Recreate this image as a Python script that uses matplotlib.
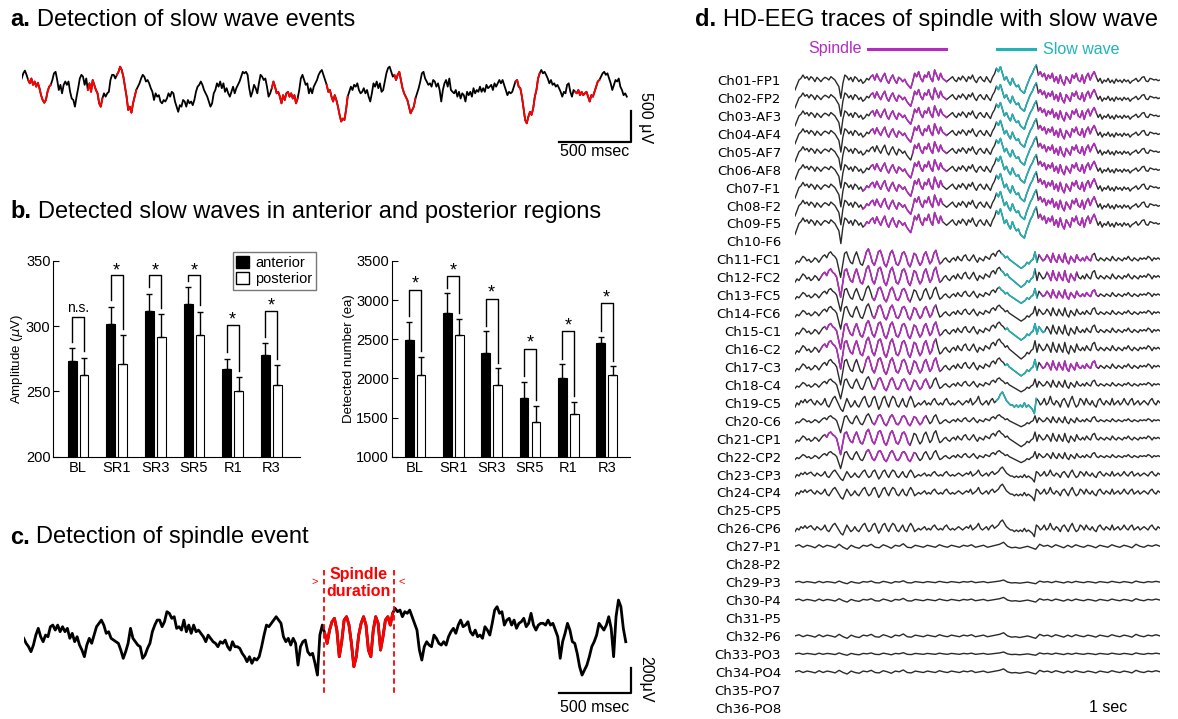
import numpy as np
import matplotlib
matplotlib.use('Agg')
import matplotlib.pyplot as plt
from matplotlib.patches import Patch
from matplotlib.lines import Line2D

plt.rcParams['font.family'] = ['Liberation Sans', 'DejaVu Sans']

W, H = 1178, 719

# ---------------- data ----------------
# a. slow wave trace (uV), sampled every dt_a ms
dt_a = 11.3
eeg_a = [190, 275, 320, 250, 165, 110, 190, 85, 140, 55,
         120, 30, -85, -165, -210, -165, -30, 55, 85, 165,
         275, 300, 165, 0, 85, -55, 85, 140, 85, 140,
         -30, -140, -165, -275, -110, 30, 190, 250, 220, 85,
         190, 0, 110, -30, 165, 85, 0, -55, -220, -275,
         -140, -55, -110, -55, -30, 165, 250, 250, 190, 250,
         300, 385, 330, 220, 55, -110, -330, -275, -375, -220,
         -110, 0, 55, 110, 190, 250, 220, 140, 165, 110,
         30, -30, -165, -55, -110, -85, -190, -220, -165, -190,
         -140, -55, -110, -30, -55, -190, -275, -360, -250, -275,
         -165, -190, -275, -165, -220, -190, -250, -165, -30, 55,
         85, 140, 85, 0, -55, -110, -190, -275, -220, -55,
         0, 110, 55, 140, 30, 110, -30, 30, -55, -110,
         -30, 55, -55, 30, 85, 140, 220, 300, 275, 300,
         250, 30, -110, -30, 85, 30, -55, 110, 250, 220,
         165, 190, 55, -110, -55, 30, 140, 55, -55, -30,
         -110, -220, -85, -165, -55, -30, -110, -55, -140, -85,
         -220, -140, 0, 190, 250, 165, 85, 110, -55, 30,
         -55, 55, 110, 165, 250, 300, 330, 250, 165, 85,
         -30, 0, -110, -190,
         -85, -165, -275, -410, -520, -470, -495, -330, -110, -30,
         55, 0, 85, 55, 110, 0, -55, -30, 30, -55,
         0, -110, -190, -55, 110, 55, 140, 30, 110, -30,
         0, 140, 275, 360, 385, 300, 220, 250, 165, 250,
         300, 165, 30, -55, -110, -165, -275, -385, -330, -275,
         -140, -55, 30, 140, 275, 300, 190, 140, 85, 110,
         55, 165, 140, 55, 110, 0, -190, 0, 110, 165,
         55, 190, 0, -30, -55, 0, -110, -30, -140, -55,
         -85, -190, -30, -85, -30, -110, 30, -55, 0, -30,
         55, -30, 30, -30, 85, 30, 55, 85, 0, 110,
         55, 110, 165, 110, 165, 85, 0, -85, -30, -55,
         -30, 55, 140, 165, 55, 30, -110, -300, -495, -550,
         -440, -360, -410, -300, -110, 0, 190, 275, 330, 275,
         300, 250, 190, 110, 165, 85, 110, 55, 85, 30,
         -30, -110, -30, -55, 85, 110, -30, -110, 0, -30,
         -55, 0, -85, -30, -85, -55, -30, -110, -190, -85,
         -110, -30, 55, 140, 165, 220, 275, 300, 250, 275,
         190, 110, 0, 85, 165, 140, 190, 55, 0, -85,
         -55, -110]
# detected slow wave events (ms)
sw_events = [(42, 205), (462, 576), (665, 805), (1750, 1943),
             (2130, 2293), (2608, 2765), (3453, 3628), (3868, 4048)]

# b. detected slow waves
groups = ['BL', 'SR1', 'SR3', 'SR5', 'R1', 'R3']
amp_ant = [273, 302, 312, 317, 267, 278]
amp_ant_err = [10, 13, 13, 13, 8, 9]
amp_post = [263, 271, 292, 293, 250, 255]
amp_post_err = [13, 22, 17, 18, 11, 15]
amp_sig = ['n.s.', '*', '*', '*', '*', '*']
amp_bracket = [307, 339, 339, 339, 301, 312]

num_ant = [2490, 2840, 2330, 1750, 2010, 2450]
num_ant_err = [235, 245, 270, 205, 170, 85]
num_post = [2040, 2555, 1910, 1445, 1550, 2050]
num_post_err = [240, 205, 220, 205, 150, 105]
num_sig = ['*', '*', '*', '*', '*', '*']
num_bracket = [3135, 3310, 3020, 2380, 2600, 2960]

# c. spindle trace (uV), sampled every dt_c ms
dt_c = 17.0
eeg_c = [-13, -53, -80, -120, -67, 13, 67, 0, -40, 13,
         0, 80, 93, 53, 93, 40, 80, 40, 67, -13,
         27, -40, 0, -67, -107, -160, -67, -13, -53, 13,
         80, 107, 133, 93, 27, 40, -13, -27, -40, -53,
         -107, -173, -120, -53, 67, -13, -40, -67, -80, -173,
         -147, -93, -53, 40, 93, 133, 133, 80, 120, 200,
         187, 147, 160, 67, 80, 53, 133, 40, 93, 27,
         93, 40, 53, 27, 0, -40, 13, -13, -40, -53,
         -80, -40, -53, -27, -80, -107, -40, -80, -80, -93,
         -133, -160, -200, -160, -213, -173, -187, -160, -80, 13,
         93, 80, 107, 133, 160, 133, 107, 0, -40, -13,
         -67, -13, -53, -227, -80, -40, -27, -120, -147, -133,
         -213, -307,
         13, 93, 27, -53, 53, 120, 147, 53, -160, -40,
         133, 160, 93, -53, -240, -160, 13, 107, 160, 93,
         -107, -160, 53, 160, 107, -107, 0, 133, 160, 93,
         187, 227, 200, 213, 160, 200, 187, 213, 160, 107,
         53, -107, -187, -80, -40, -67, -80, 13, -13, -53,
         -67, -40, -67, 0, 40, 67, 27, 93, 133, 80,
         93, 120, 40, 13, 53, 0, 13, -13, 80, 53,
         13, 107, 213, 240, 187, 200, 93, 133, 147, 93,
         133, 67, 107, 120, 147, 80, 107, 187, 93, 53,
         93, 107, 107, 93, 133, 93, 107, 53, 0, -173,
         -40, 27, 107, 53, -40, -53, -133, -240, -307, -267,
         -227, -160, -80, -40, 13, 107, 80, 53, 93, 160,
         67, -160, 160, 293, 240, 67, -40]
spindle_window = (2100, 2590)

# d. HD-EEG traces (uV), 3 s window
duration_d = 3.0
frontal_uv = [-60, -30, 0, 10, 30, 10, 20, 0, 20, 10, -10, 16, 4, -10, 6, 16, 10, 0, 20, 10,
              0, -20, -40, -110, -20, 30, 20, 0, 16, -10, 20, 10, -10, 4, -20, -10, 10, 0, 20, 30,
              0, 36, 10, -10, 20, 40, 0, -20, 10, 30, 0, -20, 16, 6, -10, 4, -20, -36, -50, -10,
              40, 20, 50, 10, -10, 30, 16, 50, 10, -10, 60, 30, 0, 40, 10, 0, -10, 0, 10, 20,
              0, -10, 16, 0, 24, 10, -10, 20, 6, 30, 0, -16, 10, 20, 0, -10, 20, 0, -16, 16,
              36, 70, 50, 80, 40, 0, 20, -10, -30, 10, -20, -40, -30, -60, -70, -80, -40, -10, 20, 40,
              70, 90, 30, 50, 20, 40, 0, 30, 10, 40, -10, 20, -20, 30, -10, -30, 20, 0, -20, 30,
              10, 40, 0, -10, 30, -20, 20, 40, 0, 30, 50, 20, -10, 10, -20, 0, -10, 10, -16, 0,
              -20, 6, -10, 0, -16, 4, -10, 0, -20, -6, 0, 10, -10, 0, 16, 20, -6, -10, 10, 6,
              0, 4, -4, 0]
central_uv = [-30, -10, -20, 0, 20, 10, -10, 0, -20, -10, 10, 0, -20, 0, 20, 30, 10, 40, 50, 30,
              20, 0, -60, -120, -40, 40, 50, 10, -20, -30, 20, 50, 10, -30, -40, 0, 50, 70, 30, -20,
              -40, 0, 50, 60, 20, -30, -50, -10, 40, 60, 20, -30, -40, -10, 40, 50, 20, -30, -50, -10,
              40, 30, -10, -40, -20, 30, 50, 10, -30, -10, 40, 60, 10, -30, -20, 0, 10, -10, -20, 0,
              10, -10, 20, 0, -10, 20, 30, 0, -10, 10, 30, 0, -20, 10, 0, -10, 20, 10, 0, 30,
              40, 20, 50, 60, 40, 30, 10, 20, 0, -10, -20, -30, -40, -50, -60, -50, -40, -20, -30, -10,
              0, 50, -20, 30, 10, -10, 0, 30, 10, -20, 40, 0, -20, 30, 0, -20, 40, -10, -30, 20,
              0, -20, 30, 0, -10, 10, -10, 20, 0, -10, 30, 40, 0, -10, 10, 0, -10, 10, 0, -10,
              20, 0, -10, 10, 0, -10, 10, 0, 20, 0, -10, 10, 0, -10, 10, 0, 10, 0, 20, 10,
              -10, 10, 0, 10, 0]
parietal_uv = [-20, 0, -10, 10, 0, 16, 0, 10, 16, 0, -10, 10, 0, -10, 0, 20, -10, -20, 0, 20,
               30, 10, -10, -30, -40, -10, 20, 0, -20, -10, 10, -10, -20, 0, 20, 30, 0, -20, -10, 20,
               30, 0, -30, -10, 20, 30, 0, -20, 10, 30, 20, -10, -20, 0, 20, -10, -20, 10, 30, 10,
               -20, -10, 0, -10, 0, 10, -10, 0, -10, 10, 20, 0, -10, 0, -10, 10, 20, 0, -10, 0,
               -10, 0, 10, 0, -10, 0, 10, 0, 20, -10, 0, 10, 30, 0, -10, 0, 10, -10, 10, 20,
               0, 10, 20, 40, 50, 30, 10, 0, -10, -10, -20, -10, -20, -10, -20, 0, -20, -10, -20, -30,
               -50, 20, 10, -10, 0, 20, -10, 0, 30, 0, -10, 10, 0, -20, 10, 20, 0, -20, 10, 30,
               0, -20, -10, 20, 10, -10, 20, 0, -10, 10, -10, -20, 10, 20, 0, -10, 10, 0, -10, 20,
               -10, 0, 10, -10, 0, 20, 0, -10, 10, 20, -10, 0, 10, -10, 0, 10, 0, -10, 10, 20,
               0, -10, 10, 0]
posterior_uv = [0, 6, -4, 4, 0, -6, 6, -4, 4, 0, -6, 8, -4, -12, 4, -4, -8, 4, 0, 8,
                -4, -6, 6, 0, -8, 4, 0, 10, -4, -6, 4, 0, -4, 4, 0, -4, 6, 0, -4, 4,
                0, -4, 4, 0, 6, -4, 0, 4, -4, 0, 4, 8, 16, 0, -6, -4, -8, -4, 0, -6,
                -12, 8, 0, 4, -4, 6, 0, -6, 4, -4, 6, 0, -4, 4, 0, -6, 4, 0, -4, 6,
                0, -4, 4, 0, -6, 8, 0, -4, 4, 0, 6, 0]
templates = {'frontal': frontal_uv, 'central': central_uv,
             'parietal': parietal_uv, 'posterior': posterior_uv}

channels = ['Ch01-FP1', 'Ch02-FP2', 'Ch03-AF3', 'Ch04-AF4', 'Ch05-AF7', 'Ch06-AF8',
            'Ch07-F1', 'Ch08-F2', 'Ch09-F5', 'Ch10-F6', 'Ch11-FC1', 'Ch12-FC2',
            'Ch13-FC5', 'Ch14-FC6', 'Ch15-C1', 'Ch16-C2', 'Ch17-C3', 'Ch18-C4',
            'Ch19-C5', 'Ch20-C6', 'Ch21-CP1', 'Ch22-CP2', 'Ch23-CP3', 'Ch24-CP4',
            'Ch25-CP5', 'Ch26-CP6', 'Ch27-P1', 'Ch28-P2', 'Ch29-P3', 'Ch30-P4',
            'Ch31-P5', 'Ch32-P6', 'Ch33-PO3', 'Ch34-PO4', 'Ch35-PO7', 'Ch36-PO8']
ch_template = ['frontal'] * 9 + [None,
               'central', 'central', 'central', 'central', 'central',
               'central', 'central', 'central', 'parietal', 'central',
               'central', 'central', 'parietal', 'parietal', None,
               'parietal', 'posterior', None, 'posterior', 'posterior',
               None, 'posterior', 'posterior', 'posterior', None, None]
ch_gain = [1.0, 1.0, 1.0, 1.0, 1.0, 1.0, 1.05, 1.05, 1.1, 0,
           0.9, 1.0, 0.8, 0.8, 0.9, 1.0, 0.9, 0.7, 1.3, 0.6,
           0.8, 0.6, 0.9, 1.0, 0, 1.0, 1.5, 0, 0.8, 1.0,
           0, 1.2, 0.7, 1.1, 0, 0]
spindle_win = {
    'Ch01-FP1': [(0.62, 1.26), (1.99, 2.48)], 'Ch02-FP2': [(0.62, 1.26), (1.99, 2.48)],
    'Ch03-AF3': [(0.62, 1.26), (1.99, 2.48)], 'Ch04-AF4': [(0.62, 1.26), (1.99, 2.48)],
    'Ch05-AF7': [(0.96, 1.26), (1.99, 2.48)], 'Ch06-AF8': [(0.62, 1.26), (1.99, 2.48)],
    'Ch07-F1': [(0.55, 1.22), (1.99, 2.48)], 'Ch08-F2': [(0.55, 1.22), (1.99, 2.48)],
    'Ch09-F5': [(0.57, 1.22), (1.99, 2.48)],
    'Ch11-FC1': [(0.57, 1.20), (1.99, 2.45)], 'Ch12-FC2': [(0.21, 1.20), (2.06, 2.32)],
    'Ch13-FC5': [(0.62, 0.96), (2.02, 2.48)], 'Ch14-FC6': [(0.62, 1.17)],
    'Ch15-C1': [(0.24, 1.20)], 'Ch16-C2': [(0.21, 1.17)],
    'Ch17-C3': [(0.57, 1.20), (2.02, 2.48)], 'Ch18-C4': [(0.62, 1.11)],
    'Ch20-C6': [(0.62, 1.09)], 'Ch21-CP1': [(0.24, 0.96)], 'Ch22-CP2': [(0.58, 1.00)],
}
slow_win = {
    'Ch01-FP1': [(1.65, 1.99)], 'Ch02-FP2': [(1.65, 1.99)], 'Ch03-AF3': [(1.65, 1.99)],
    'Ch04-AF4': [(1.65, 1.99)], 'Ch05-AF7': [(1.65, 1.99)], 'Ch06-AF8': [(1.65, 1.99)],
    'Ch07-F1': [(1.65, 1.99)], 'Ch08-F2': [(1.65, 1.99)], 'Ch09-F5': [(1.65, 1.99)],
    'Ch11-FC1': [(1.69, 1.99)], 'Ch12-FC2': [(1.69, 1.98)], 'Ch13-FC5': [(1.67, 1.99)],
    'Ch15-C1': [(1.72, 2.07)], 'Ch17-C3': [(1.72, 1.99)], 'Ch19-C5': [(1.65, 1.99)],
}

# ---------------- layout helpers ----------------
def rect(l, t, r, b):
    return [l / W, 1 - b / H, (r - l) / W, (b - t) / H]


def ftext(x, y, s, **kw):
    fig.text(x / W, 1 - y / H, s, **kw)


def title(x, y, letter, s, gap):
    ftext(x, y, letter, fontsize=17, fontweight='bold', va='center')
    ftext(x + gap, y, s, fontsize=17, va='center')


def draw_trace(ax, t, v, windows, hi, base, lw):
    ax.plot(t, v, color=base, lw=lw, solid_joinstyle='round')
    for t0, t1 in windows:
        m = (t >= t0) & (t <= t1)
        ax.plot(t[m], v[m], color=hi, lw=lw, solid_joinstyle='round')


MAGENTA = '#b52bc0'
CYAN = '#20b4b8'

fig = plt.figure(figsize=(W / 100, H / 100), dpi=100)

# ---------------- a ----------------
title(10, 20, 'a.', 'Detection of slow wave events', 27)
ms_px = 500 / 71.4
uv_px_a = 16.5
ax = fig.add_axes(rect(21.7, 60, 660, 160))
ax.set_xlim(0, (660 - 21.7) * ms_px)
ax.set_ylim(-(160 - 90) * uv_px_a, (90 - 60) * uv_px_a)
ax.axis('off')
t_a = np.arange(len(eeg_a)) * dt_a
draw_trace(ax, t_a, np.array(eeg_a), sw_events, 'red', 'black', 1.3)
x1 = (630.7 - 21.7) * ms_px
y0 = -(141.7 - 90) * uv_px_a
ax.plot([x1 - 500, x1, x1], [y0, y0, y0 + 500], color='black', lw=1.6, clip_on=False)
ftext(595, 152, '500 msec', ha='center', va='center', fontsize=11.5)
ftext(646, 118, '500 μV', ha='center', va='center', fontsize=11.5, rotation=270)

# ---------------- b ----------------
title(10, 212, 'b.', 'Detected slow waves in anterior and posterior regions', 28)


def draw_bars(ax, ant, ant_err, post, post_err, bracket, sig, gap):
    x = np.arange(len(groups))
    off, w = 0.155, 0.23
    ax.bar(x - off, ant, w, color='black', edgecolor='black', lw=0.8, zorder=2)
    ax.bar(x + off, post, w, color='white', edgecolor='black', lw=0.8, zorder=2)
    z = np.zeros(len(x))
    ax.errorbar(x - off, ant, yerr=[z, ant_err], fmt='none', ecolor='black',
                elinewidth=1, capsize=2, capthick=1, zorder=3)
    ax.errorbar(x + off, post, yerr=[z, post_err], fmt='none', ecolor='black',
                elinewidth=1, capsize=2, capthick=1, zorder=3)
    for i in range(len(x)):
        ya = ant[i] + ant_err[i] + gap
        yp = post[i] + post_err[i] + gap
        ax.plot([x[i] - off, x[i] - off, x[i] + off, x[i] + off],
                [ya, bracket[i], bracket[i], yp], color='black', lw=1)
        if sig[i] == '*':
            ax.text(x[i], bracket[i] - gap * 0.6, '*', ha='center', va='bottom', fontsize=13)
        else:
            ax.text(x[i], bracket[i] + gap * 0.3, sig[i], ha='center', va='bottom', fontsize=10)
    ax.set_xticks(x)
    ax.set_xticklabels(groups, fontsize=10.5)
    ax.tick_params(axis='x', length=0, pad=3)
    ax.tick_params(axis='y', direction='in', length=4, labelsize=10.5, pad=2)
    for s in ['top', 'right']:
        ax.spines[s].set_visible(False)


ax = fig.add_axes(rect(53.3, 261, 300, 456.7))
draw_bars(ax, amp_ant, amp_ant_err, amp_post, amp_post_err, amp_bracket, amp_sig, 5)
ax.set_xlim(-0.64, 5.74)
ax.set_ylim(200, 350)
ax.set_yticks([200, 250, 300, 350])
ax.set_ylabel(r'Amplitude ($\mu$V)', fontsize=9.5, labelpad=1)
ax.legend([Patch(facecolor='black', edgecolor='black'),
           Patch(facecolor='white', edgecolor='black')],
          ['anterior', 'posterior'], loc='upper right', bbox_to_anchor=(1.065, 1.045),
          frameon=True, fancybox=False, edgecolor='#777777', framealpha=1,
          fontsize=10.5, handlelength=0.9, handleheight=0.9, handletextpad=0.4,
          borderpad=0.25, labelspacing=0.15, borderaxespad=0)

ax = fig.add_axes(rect(391.7, 261, 630, 456.7))
draw_bars(ax, num_ant, num_ant_err, num_post, num_post_err, num_bracket, num_sig, 70)
ax.set_xlim(-0.61, 5.61)
ax.set_ylim(1000, 3500)
ax.set_yticks([1000, 1500, 2000, 2500, 3000, 3500])
ax.set_ylabel('Detected number (ea)', fontsize=9.5, labelpad=1)

# ---------------- c ----------------
title(10, 537, 'c.', 'Detection of spindle event', 26)
uv_px_c = 8.0
ax = fig.add_axes(rect(23.7, 560, 660, 719))
ax.set_xlim(0, (660 - 23.7) * ms_px)
ax.set_ylim(-(719 - 636.7) * uv_px_c, (636.7 - 560) * uv_px_c)
ax.axis('off')
t_c = np.arange(len(eeg_c)) * dt_c
draw_trace(ax, t_c, np.array(eeg_c), [spindle_window], 'red', 'black', 2.0)
for tx in spindle_window:
    ax.plot([tx, tx], [(636.7 - 570) * uv_px_c, -(695 - 636.7) * uv_px_c],
            color='red', lw=1.3, ls=(0, (3, 2)))
mid = sum(spindle_window) / 2
ax.text(mid, (636.7 - 583) * uv_px_c, 'Spindle\nduration', color='red',
        ha='center', va='center', fontsize=11.5, fontweight='bold', linespacing=1.1)
ax.text(spindle_window[0] - 60, (636.7 - 582) * uv_px_c, '>', color='red',
        ha='center', va='center', fontsize=8)
ax.text(spindle_window[1] + 60, (636.7 - 582) * uv_px_c, '<', color='red',
        ha='center', va='center', fontsize=8)
x1 = (630.7 - 23.7) * ms_px
y0 = -(693.3 - 636.7) * uv_px_c
ax.plot([x1 - 500, x1, x1], [y0, y0, y0 + 200], color='black', lw=1.6, clip_on=False)
ftext(595, 708, '500 msec', ha='center', va='center', fontsize=11.5)
ftext(646, 679, '200μV', ha='center', va='center', fontsize=11.5, rotation=270)

# ---------------- d ----------------
title(695, 20, 'd.', 'HD-EEG traces of spindle with slow wave', 28)
ftext(835, 49, 'Spindle', color=MAGENTA, ha='center', va='center', fontsize=11.5)
fig.add_artist(Line2D([868 / W, 946 / W], [1 - 49 / H, 1 - 49 / H], color=MAGENTA, lw=2.2))
fig.add_artist(Line2D([997 / W, 1035 / W], [1 - 49 / H, 1 - 49 / H], color=CYAN, lw=2.2))
ftext(1081, 49, 'Slow wave', color=CYAN, ha='center', va='center', fontsize=11.5)

spacing = 107.6
ax = fig.add_axes(rect(795, 62, 1160, 719))
ax.set_xlim(0, duration_d)
ax.set_ylim(-(719 - 80) * 6, (80 - 62) * 6)
for i, name in enumerate(channels):
    tpl = ch_template[i]
    if tpl is None:
        continue
    v = np.array(templates[tpl]) * ch_gain[i] - i * spacing
    t = np.linspace(0, duration_d, len(v))
    ax.plot(t, v, color='#2a2a2a', lw=1.0)
    for t0, t1 in spindle_win.get(name, []):
        m = (t >= t0) & (t <= t1)
        ax.plot(t[m], v[m], color=MAGENTA, lw=1.1)
    for t0, t1 in slow_win.get(name, []):
        m = (t >= t0) & (t <= t1)
        ax.plot(t[m], v[m], color=CYAN, lw=1.1)
ax.set_yticks([-i * spacing for i in range(len(channels))])
ax.set_yticklabels(channels, family='DejaVu Sans', fontsize=9.5)
ax.tick_params(axis='y', length=0, pad=10)
ax.set_xticks([])
for s in ax.spines.values():
    s.set_visible(False)
ftext(1108, 708, '1 sec', ha='center', va='center', fontsize=11.5)

fig.savefig('out.png', dpi=100)
